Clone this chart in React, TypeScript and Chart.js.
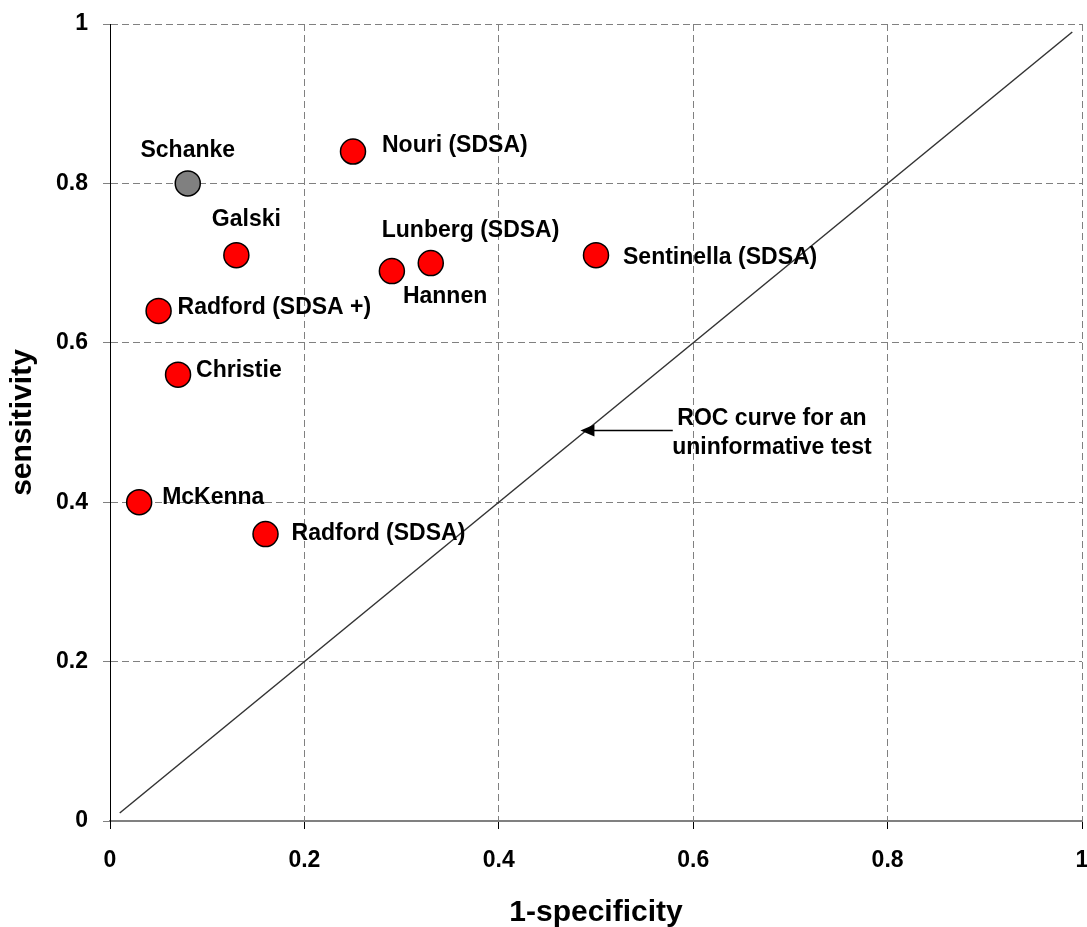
import React, { useEffect, useRef } from "react";
import { Chart, registerables } from "chart.js";

Chart.register(...registerables);

// ---- data ----
const studyNames = [
  "Schanke",
  "Nouri (SDSA)",
  "Galski",
  "Lunberg (SDSA)",
  "Hannen",
  "Sentinella (SDSA)",
  "Radford (SDSA +)",
  "Christie",
  "McKenna",
  "Radford (SDSA)",
];
const oneMinusSpecificity = [0.08, 0.25, 0.13, 0.33, 0.29, 0.5, 0.05, 0.07, 0.03, 0.16];
const sensitivityValues = [0.8, 0.84, 0.71, 0.7, 0.69, 0.71, 0.64, 0.56, 0.4, 0.36];

const referenceLineX = [0.01, 0.99];
const referenceLineY = [0.01, 0.99];

const arrowTail = [0.579, 0.49];
const arrowHead = [0.484, 0.49];
const noteLines = ["ROC curve for an", "uninformative test"];
const notePosition = [0.681, 0.487];

const axisMin = 0;
const axisMax = 1;
const axisStep = 0.2;
const tickLabels = ["0", "0.2", "0.4", "0.6", "0.8", "1"];

// ---- styles ----
const pointColors = ["#808080", "#FF0000", "#FF0000", "#FF0000", "#FF0000", "#FF0000", "#FF0000", "#FF0000", "#FF0000", "#FF0000"];
// [dx, dy, align] pixel offsets of each label from its point
const labelPlacement: [number, number, CanvasTextAlign][] = [
  [0, -33, "center"],
  [29, -6, "left"],
  [10, -35, "center"],
  [-49, -32, "left"],
  [11, 26, "left"],
  [27, 3, "left"],
  [19, -3, "left"],
  [18, -4, "left"],
  [23, -5, "left"],
  [26, 0, "left"],
];

const FONT = '"Liberation Sans", Arial, Helvetica, sans-serif';

const zeroPadding = () => ({ left: 0, top: 0, right: 0, bottom: 0 });

const annotationPlugin = {
  id: "roc-annotations",
  afterDatasetsDraw(chart: any) {
    const { ctx } = chart;
    const xs = chart.scales.x;
    const ys = chart.scales.y;
    ctx.save();
    ctx.fillStyle = "#000";
    ctx.font = `bold 23px ${FONT}`;
    ctx.textBaseline = "middle";
    studyNames.forEach((name, i) => {
      const px = xs.getPixelForValue(oneMinusSpecificity[i]);
      const py = ys.getPixelForValue(sensitivityValues[i]);
      const [dx, dy, align] = labelPlacement[i];
      ctx.textAlign = align;
      ctx.fillText(name, px + dx, py + dy);
    });

    // arrow
    const tx = xs.getPixelForValue(arrowTail[0]);
    const ty = ys.getPixelForValue(arrowTail[1]);
    const hx = xs.getPixelForValue(arrowHead[0]);
    const hy = ys.getPixelForValue(arrowHead[1]);
    ctx.strokeStyle = "#000";
    ctx.lineWidth = 1.5;
    ctx.beginPath();
    ctx.moveTo(tx, ty);
    ctx.lineTo(hx + 10, hy);
    ctx.stroke();
    ctx.beginPath();
    ctx.moveTo(hx, hy);
    ctx.lineTo(hx + 14, hy - 6);
    ctx.lineTo(hx + 14, hy + 6);
    ctx.closePath();
    ctx.fill();

    // note text
    const nx = xs.getPixelForValue(notePosition[0]);
    const ny = ys.getPixelForValue(notePosition[1]);
    ctx.textAlign = "center";
    ctx.fillText(noteLines[0], nx, ny - 14.5);
    ctx.fillText(noteLines[1], nx, ny + 14.5);
    ctx.restore();
  },
};

export default function App() {
  const canvasRef = useRef<HTMLCanvasElement | null>(null);

  useEffect(() => {
    if (!canvasRef.current) return;
    const chart = new Chart(canvasRef.current, {
      type: "scatter",
      data: {
        datasets: [
          {
            label: "studies",
            data: oneMinusSpecificity.map((x, i) => ({ x, y: sensitivityValues[i] })),
            backgroundColor: pointColors,
            borderColor: "#000",
            borderWidth: 1.5,
            pointRadius: 12.5,
            pointHoverRadius: 12.5,
            order: 0,
          },
          {
            type: "line",
            label: "uninformative",
            data: referenceLineX.map((x, i) => ({ x, y: referenceLineY[i] })),
            borderColor: "#333",
            borderWidth: 1.5,
            pointRadius: 0,
            showLine: true,
            fill: false,
            order: 1,
          } as any,
        ],
      },
      options: {
        animation: false,
        responsive: false,
        maintainAspectRatio: false,
        layout: { autoPadding: false, padding: { top: 24, right: 5, left: 0, bottom: 0 } },
        plugins: {
          legend: { display: false },
          tooltip: { enabled: false },
        },
        scales: {
          x: {
            type: "linear",
            min: axisMin,
            max: axisMax,
            ticks: {
              stepSize: axisStep,
              color: "#000",
              font: { family: FONT, size: 23, weight: "bold" },
              padding: 18,
              maxRotation: 0,
              callback: (_v: any, i: number) => tickLabels[i],
            },
            grid: {
              color: "#808080",
              lineWidth: 1,
              tickLength: 8,
              tickColor: "#000",
              tickBorderDash: [],
            },
            border: { color: "#808080", width: 2, dash: [7, 4] },
            title: {
              display: true,
              text: "1-specificity",
              color: "#000",
              font: { family: FONT, size: 30, weight: "bold", lineHeight: 1 },
              padding: { top: 0, bottom: -1 },
            },
            afterFit: (scale: any) => {
              scale.height = 106;
              scale.paddingRight = 0;
              scale.paddingLeft = 0;
              scale.getPadding = zeroPadding;
            },
          },
          y: {
            type: "linear",
            min: axisMin,
            max: axisMax,
            ticks: {
              stepSize: axisStep,
              color: "#000",
              font: { family: FONT, size: 23, weight: "bold" },
              padding: 15,
              callback: (_v: any, i: number) => tickLabels[i],
            },
            grid: {
              color: "#808080",
              lineWidth: 1,
              tickLength: 7,
              tickColor: "#808080",
              tickBorderDash: [],
            },
            border: { color: "#000", width: 1, dash: [7, 4] },
            title: {
              display: true,
              text: "sensitivity",
              color: "#000",
              font: { family: FONT, size: 30, weight: "bold", lineHeight: 1 },
              padding: { top: 8, bottom: 0 },
            },
            afterFit: (scale: any) => {
              scale.width = 110;
              scale.paddingTop = 0;
              scale.paddingBottom = 0;
              scale.getPadding = zeroPadding;
            },
          },
        },
      },
      plugins: [annotationPlugin],
    });
    return () => chart.destroy();
  }, []);

  return (
    <div style={{ position: "absolute", left: 0, top: 0, width: 1087, height: 927, background: "#fff" }}>
      <canvas ref={canvasRef} width={1087} height={927} style={{ width: 1087, height: 927, display: "block" }} />
    </div>
  );
}
